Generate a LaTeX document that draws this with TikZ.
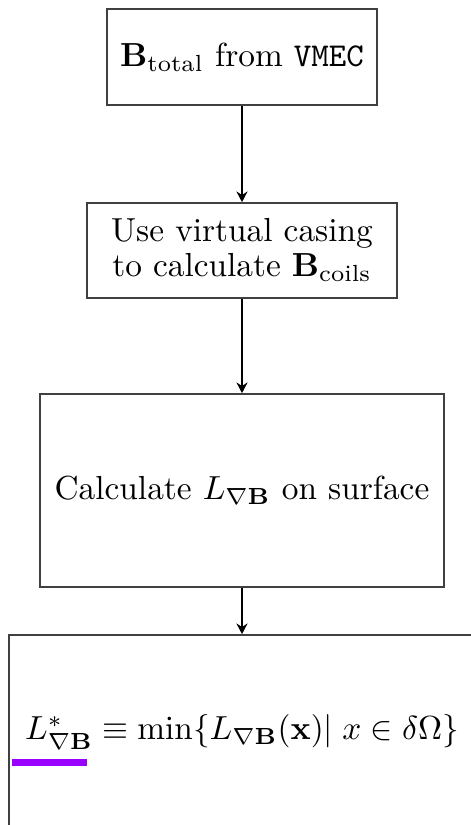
\documentclass[tikz,border=0pt]{standalone}
\usepackage{amsmath}
\usetikzlibrary{arrows.meta}
\definecolor{violetbar}{RGB}{153,0,255}
\begin{document}
\begin{tikzpicture}[x=0.3pt,y=-0.3pt,
  box/.style={draw=black!75,line width=0.5pt,rectangle,inner sep=0pt,align=center,
    font=\fontsize{10}{10.5}\selectfont},
  flow/.style={line width=0.65pt,-{Stealth[length=3.2pt,width=3.3pt]}}]
\clip (0,0) rectangle (471,825);
\useasboundingbox (0,0) rectangle (471,825);
\node[box,minimum width=81pt,minimum height=28.8pt] (b1) at (242,57) {$\mathbf{B}_{\text{total}}$ from \texttt{VMEC}};
\node[box,minimum width=93pt,minimum height=28.5pt] (b2) at (242,250.5) {Use virtual casing\\to calculate $\mathbf{B}_{\text{coils}}$};
\node[box,minimum width=121.2pt,minimum height=57.9pt] (b3) at (242,490.5) {Calculate $L_{\nabla\mathbf{B}}$ on surface};
\node[box,minimum width=139.8pt,minimum height=58.2pt] (b4) at (242,732) {$L^{*}_{\nabla\mathbf{B}}\equiv\min\{L_{\nabla\mathbf{B}}(\mathbf{x})|\;x\in\delta\Omega\}$};
\draw[flow] (b1) -- (b2);
\draw[flow] (b2) -- (b3);
\draw[flow] (b3) -- (b4);
\coordinate (u1) at (12,762);
\coordinate (u2) at (87,762);
\draw[violetbar,line width=2.1pt] (u1) -- (u2);
\end{tikzpicture}
\end{document}
